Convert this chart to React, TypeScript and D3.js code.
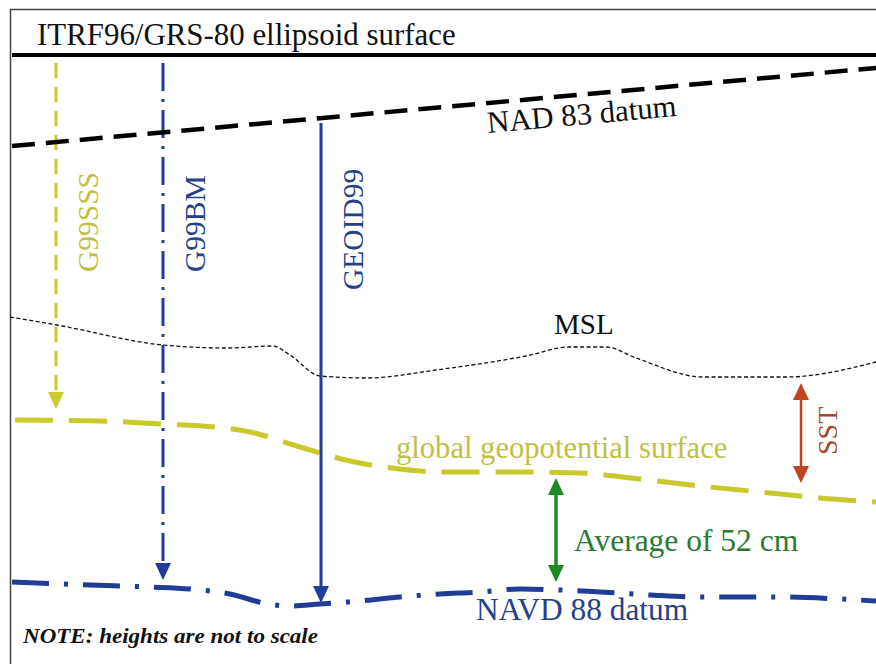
import React from "react";
import * as d3 from "d3";

// Schematic profile: distance along profile (0..866) and depth below the ellipsoid line (0..600)
const NAD83_X = [2, 866];
const NAD83_DEPTH = [92, 14];

const MSL_X = [0, 47, 153, 217, 263, 280, 310, 357, 426, 516, 559, 596, 626, 693, 776, 866];
const MSL_DEPTH = [263, 271, 291, 294, 292, 301, 322, 324, 316, 302, 293, 293, 304, 323, 323, 308];

const GEOPOT_X = [5, 90, 153, 205, 240, 290, 340, 390, 430, 510, 570, 630, 690, 750, 810, 866];
const GEOPOT_DEPTH = [366, 367, 370, 373, 378, 393, 407, 415, 418, 418, 419, 425, 432, 438, 444, 448];

const NAVD_X = [2, 80, 140, 180, 220, 258, 280, 310, 350, 390, 430, 470, 510, 550, 590, 640, 690, 770, 830, 866];
const NAVD_DEPTH = [528, 531, 533, 535, 540, 550, 552, 550, 547, 543, 540, 538, 535, 536, 538, 541, 543, 543, 545, 547];

const ARROW_LABELS = ["G99SSS", "G99BM", "GEOID99"];
const ARROW_X = [46, 153, 311];
const ARROW_FROM = [9, 9, 69];
const ARROW_TO = [355, 526, 549];

const DOUBLE_LABELS = ["Average of 52 cm", "SST"];
const DOUBLE_X = [546, 791];
const DOUBLE_FROM = [424, 329];
const DOUBLE_TO = [528, 429];

const W = 876;
const H = 664;
const FONT = '"Liberation Serif", "DejaVu Serif", serif';

const YELLOW = "#c9c92e";
const YELLOW_TEXT = "#bfbf45";
const BLUE = "#1f3c96";
const BLUE_TEXT = "#27408a";
const GREEN = "#1d8a24";
const GREEN_TEXT = "#2b7a30";
const RED = "#c2441f";
const RED_TEXT = "#a44a32";

export default function App() {
  const x = d3.scaleLinear().domain([0, 866]).range([10, 876]);
  const y = d3.scaleLinear().domain([0, 600]).range([54, 654]);

  const line = d3
    .line<[number, number]>()
    .x((d) => x(d[0]))
    .y((d) => y(d[1]))
    .curve(d3.curveMonotoneX);
  const straight = d3
    .line<[number, number]>()
    .x((d) => x(d[0]))
    .y((d) => y(d[1]));

  const zip = (xs: number[], ys: number[]) => xs.map((v, i) => [v, ys[i]] as [number, number]);

  const headDown = (px: number, py: number) =>
    `M${px - 8},${py - 17}L${px + 8},${py - 17}L${px},${py}Z`;
  const headUp = (px: number, py: number) =>
    `M${px - 8},${py + 17}L${px + 8},${py + 17}L${px},${py}Z`;

  const nadY = (d: number) =>
    NAD83_DEPTH[0] + ((d - NAD83_X[0]) / (NAD83_X[1] - NAD83_X[0])) * (NAD83_DEPTH[1] - NAD83_DEPTH[0]);
  const nadAngle =
    (Math.atan2(y(NAD83_DEPTH[1]) - y(NAD83_DEPTH[0]), x(NAD83_X[1]) - x(NAD83_X[0])) * 180) / Math.PI;

  const arrowStyles = [
    { color: YELLOW, text: YELLOW_TEXT, dash: "15 9", width: 3 },
    { color: BLUE, text: BLUE_TEXT, dash: "28 8 3 8", width: 3 },
    { color: BLUE, text: BLUE_TEXT, dash: "none", width: 3 },
  ];
  const arrowLabelDepth = [218, 218, 236];
  const ts: React.CSSProperties = { fontFamily: FONT };

  return (
    <svg
      width={W}
      height={H}
      style={{ position: "absolute", left: 0, top: 0, background: "#fff", fontFamily: FONT }}
    >
      <rect x={0} y={0} width={W} height={H} fill="#fff" />
      {/* frame */}
      <rect x={10.5} y={9.5} width={900} height={700} fill="none" stroke="#444" strokeWidth={1.5} />
      <line x1={12} x2={W} y1={55} y2={55} stroke="#000" strokeWidth={4} />
      <text x={37} y={45} fontSize={30.9} fill="#111" style={ts}>
        ITRF96/GRS-80 ellipsoid surface
      </text>

      {/* MSL */}
      <path d={line(zip(MSL_X, MSL_DEPTH)) || ""} fill="none" stroke="#111" strokeWidth={1.3} strokeDasharray="4 2.5" />
      <text x={554} y={334} fontSize={29} fill="#111" style={ts}>
        MSL
      </text>

      {/* global geopotential surface */}
      <path
        d={line(zip(GEOPOT_X, GEOPOT_DEPTH)) || ""}
        fill="none"
        stroke={YELLOW}
        strokeWidth={5}
        strokeDasharray="38 16"
      />
      <text x={396} y={458} fontSize={30.6} fill={YELLOW_TEXT} style={ts}>
        global geopotential surface
      </text>

      {/* NAVD 88 */}
      <path
        d={line(zip(NAVD_X, NAVD_DEPTH)) || ""}
        fill="none"
        stroke={BLUE}
        strokeWidth={5}
        strokeDasharray="37 15 4 15"
      />
      <text x={476} y={620} fontSize={31.4} fill={BLUE_TEXT} style={ts}>
        NAVD 88 datum
      </text>

      {/* vertical arrows */}
      {ARROW_LABELS.map((lab, i) => {
        const s = arrowStyles[i];
        const px = x(ARROW_X[i]);
        const y0 = y(ARROW_FROM[i]);
        const y1 = y(ARROW_TO[i]);
        const ty = y(arrowLabelDepth[i]);
        return (
          <g key={lab}>
            <line
              x1={px}
              x2={px}
              y1={y0}
              y2={y1 - 14}
              stroke={s.color}
              strokeWidth={s.width}
              strokeDasharray={s.dash}
            />
            <path d={headDown(px, y1)} fill={s.color} />
            <text
              transform={`translate(${px + 42},${ty}) rotate(-90)`}
              fontSize={29.5}
              fill={s.text}
              style={ts}
            >
              {lab}
            </text>
          </g>
        );
      })}

      {/* NAD 83 */}
      <path
        d={straight(zip(NAD83_X, NAD83_DEPTH)) || ""}
        fill="none"
        stroke="#000"
        strokeWidth={4.5}
        strokeDasharray="23 11"
      />
      <text
        transform={`translate(${x(478)},${y(nadY(478)) + 30}) rotate(${nadAngle})`}
        fontSize={30.8}
        fill="#111"
        style={ts}
      >
        NAD 83 datum
      </text>

      {/* double arrows */}
      {DOUBLE_LABELS.map((lab, i) => {
        const color = i === 0 ? GREEN : RED;
        const tcol = i === 0 ? GREEN_TEXT : RED_TEXT;
        const px = x(DOUBLE_X[i]);
        const y0 = y(DOUBLE_FROM[i]);
        const y1 = y(DOUBLE_TO[i]);
        return (
          <g key={lab}>
            <line x1={px} x2={px} y1={y0 + 12} y2={y1 - 12} stroke={color} strokeWidth={i === 0 ? 3.5 : 2.5} />
            <path d={headUp(px, y0)} fill={color} />
            <path d={headDown(px, y1)} fill={color} />
            {i === 0 ? (
              <text x={px + 18} y={y(497)} fontSize={31.5} fill={tcol} style={ts}>
                {lab}
              </text>
            ) : (
              <text transform={`translate(${px + 36},${y(401)}) rotate(-90)`} fontSize={28} fill={tcol} style={ts}>
                {lab}
              </text>
            )}
          </g>
        );
      })}

      {/* note */}
      <text
        x={23}
        y={643}
        fontSize={21}
        fontWeight="bold"
        fontStyle="italic"
        fill="#111"
        style={ts}
        textLength={295}
        lengthAdjust="spacingAndGlyphs"
      >
        NOTE: heights are not to scale
      </text>
    </svg>
  );
}
